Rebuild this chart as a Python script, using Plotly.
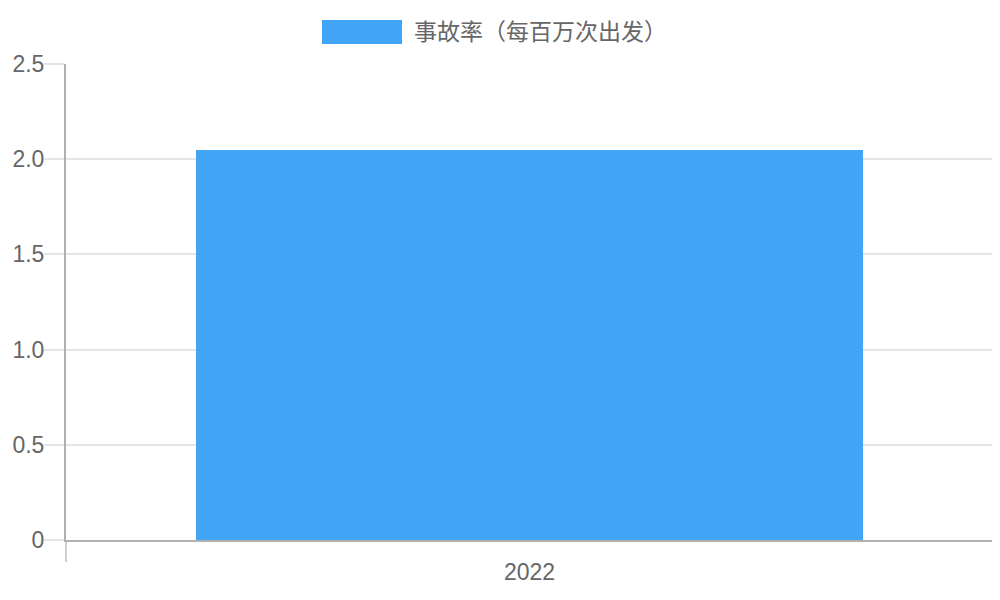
import plotly.graph_objects as go

# data
years = ["2022"]
accident_rate = [2.05]
series_name = "事故率（每百万次出发）"
y_tick_vals = [0, 0.5, 1.0, 1.5, 2.0, 2.5]
y_tick_text = ["0", "0.5", "1.0", "1.5", "2.0", "2.5"]

BAR_COLOR = "#42A5F5"
TEXT_COLOR = "#666666"
GRID_COLOR = "#e5e5e5"
AXIS_COLOR = "#b0b0b0"
FONT = "Liberation Sans, Noto Sans CJK SC, sans-serif"

# plot area in page pixels: x 66..993, y 64..540
PX0, PX1, PY0, PY1 = 66, 993, 64, 540
PW, PH = PX1 - PX0, PY1 - PY0

fig = go.Figure()
fig.add_trace(go.Bar(
    x=years,
    y=accident_rate,
    name=series_name,
    marker=dict(color=BAR_COLOR, line=dict(width=0)),
    width=0.72,
    showlegend=False,
))

# Chart.js style legend: wide colour box plus label, centred above the plot
fig.add_shape(
    type="rect", xref="paper", yref="paper",
    x0=(322 - PX0) / PW, x1=(402 - PX0) / PW,
    y0=(PY1 - 44) / PH, y1=(PY1 - 20) / PH,
    fillcolor=BAR_COLOR, line=dict(width=0),
)
fig.add_annotation(
    text=series_name, xref="paper", yref="paper",
    x=(412 - PX0) / PW, y=(PY1 - 32) / PH,
    xanchor="left", yanchor="middle", showarrow=False,
    font=dict(size=23, color=TEXT_COLOR, family=FONT),
)

# page has an 8px body margin, so the figure is sized to fit the window
fig.update_layout(
    width=992,
    height=592,
    margin=dict(l=PX0 - 8, r=1000 - PX1, t=PY0 - 8, b=600 - PY1),
    plot_bgcolor="white",
    paper_bgcolor="white",
    font=dict(family=FONT, size=23, color=TEXT_COLOR),
    xaxis=dict(
        type="category",
        range=[-0.5, 0.5],
        automargin=False,
        tickson="boundaries",
        ticks="outside",
        ticklen=20,
        tickwidth=1.5,
        tickcolor="#d0d0d0",
        ticklabelstandoff=10,
        showgrid=True,
        gridcolor=GRID_COLOR,
        gridwidth=1.5,
        showline=True,
        linecolor=AXIS_COLOR,
        linewidth=2,
        tickfont=dict(size=23, color=TEXT_COLOR),
    ),
    yaxis=dict(
        range=[0, 2.5],
        automargin=False,
        tickvals=y_tick_vals,
        ticktext=y_tick_text,
        ticks="outside",
        ticklen=20,
        tickwidth=1.5,
        tickcolor=GRID_COLOR,
        ticklabelstandoff=-5,
        showgrid=True,
        gridcolor=GRID_COLOR,
        gridwidth=1.5,
        zeroline=False,
        showline=True,
        linecolor=AXIS_COLOR,
        linewidth=2,
        tickfont=dict(size=23, color=TEXT_COLOR),
    ),
    bargap=0,
)

fig.write_html("out.html")
